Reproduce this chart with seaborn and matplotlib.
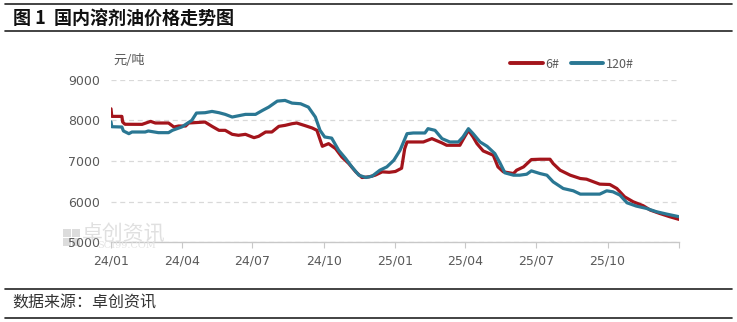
import numpy as np
import pandas as pd
import matplotlib
matplotlib.use('Agg')
import matplotlib.pyplot as plt
from matplotlib.lines import Line2D
from matplotlib.patches import Rectangle
import seaborn as sns

# ---------------- data ----------------
start_date = '2024-01-01'
days_6 = [0, 1, 14, 15, 18, 40, 51, 57, 74, 81, 87, 96, 100, 121, 130, 139, 147, 156,
          164, 173, 184, 190, 199, 207, 216, 224, 233, 239, 250, 259, 265, 272, 280,
          289, 297, 306, 315, 323, 332, 340, 349, 358, 366, 374, 378, 381, 389, 402,
          413, 426, 432, 449, 453, 460, 466, 471, 479, 492, 498, 505, 518, 522, 531,
          541, 552, 565, 569, 578, 591, 604, 612, 621, 629, 642, 651, 661, 672, 685,
          694, 706, 719, 731]
vals_6 = [8280, 8094, 8094, 7955, 7900, 7898, 7971, 7931, 7931, 7833, 7857, 7857, 7931,
          7955, 7849, 7751, 7751, 7653, 7629, 7653, 7571, 7604, 7710, 7710, 7849, 7873,
          7914, 7931, 7865, 7808, 7751, 7359, 7424, 7302, 7098, 6935, 6731, 6592, 6608,
          6649, 6731, 6720, 6740, 6820, 7300, 7465, 7465, 7465, 7547, 7441, 7384, 7384,
          7522, 7751, 7588, 7424, 7245, 7139, 6853, 6731, 6690, 6771, 6853, 7033, 7041,
          7041, 6935, 6771, 6649, 6567, 6551, 6486, 6429, 6420, 6322, 6118, 5996, 5898,
          5792, 5710, 5629, 5563]
days_120 = [0, 1, 14, 16, 23, 27, 44, 48, 61, 74, 79, 91, 104, 110, 121, 130, 139, 147,
            156, 173, 186, 195, 203, 214, 224, 233, 244, 254, 263, 269, 275, 284, 293,
            302, 310, 319, 328, 336, 346, 355, 364, 372, 381, 389, 404, 408, 417, 426,
            436, 447, 453, 460, 466, 475, 484, 494, 501, 507, 518, 526, 535, 541, 552,
            561, 569, 582, 595, 604, 612, 629, 638, 646, 655, 664, 676, 689, 702, 715,
            731]
vals_120 = [7960, 7840, 7833, 7735, 7669, 7710, 7710, 7735, 7694, 7694, 7751, 7833, 7996,
            8176, 8184, 8216, 8184, 8143, 8078, 8143, 8143, 8241, 8322, 8469, 8486, 8420,
            8404, 8322, 8078, 7751, 7588, 7560, 7261, 7057, 6853, 6649, 6592, 6624, 6771,
            6853, 7016, 7261, 7669, 7686, 7686, 7792, 7751, 7547, 7465, 7465, 7588, 7792,
            7669, 7465, 7359, 7180, 6935, 6706, 6649, 6649, 6673, 6755, 6690, 6649, 6486,
            6322, 6265, 6184, 6184, 6184, 6265, 6241, 6159, 5971, 5890, 5833, 5751, 5694,
            5629]
series_names = ['6#', '120#']
series_colors = ['#A3141B', '#2A7793']
ytick_values = [5000, 6000, 7000, 8000, 9000]
xtick_dates = ['2024-01-01', '2024-04-01', '2024-07-01', '2024-10-01', '2025-01-01',
               '2025-04-01', '2025-07-01', '2025-10-01', '2026-01-01']
xtick_labels = ['24/01', '24/04', '24/07', '24/10', '25/01', '25/04', '25/07', '25/10', '']
title_text = '图 1  国内溶剂油价格走势图'
source_text = '数据来源：卓创资讯'
unit_text = '元/吨'
watermark_text = '卓创资讯'
watermark_sub = 'SCI99.COM'

# ---------------- build table ----------------
t0 = pd.Timestamp(start_date)
df = pd.concat([
    pd.DataFrame({'date': t0 + pd.to_timedelta(days_6, unit='D'), 'price': vals_6,
                  'series': series_names[0]}),
    pd.DataFrame({'date': t0 + pd.to_timedelta(days_120, unit='D'), 'price': vals_120,
                  'series': series_names[1]}),
], ignore_index=True)

sns.set_theme(style='white')
plt.rcParams['font.family'] = ['Noto Sans CJK SC', 'DejaVu Sans']
plt.rcParams['axes.unicode_minus'] = False

W, H = 737, 322
fig = plt.figure(figsize=(W / 100, H / 100), dpi=100)
fig.patch.set_facecolor('white')

left, right, top, bottom = 111, 679, 79.5, 242.3
ax = fig.add_axes([left / W, 1 - bottom / H, (right - left) / W, (bottom - top) / H])
ax.set_facecolor('white')

sns.lineplot(data=df, x='date', y='price', hue='series', hue_order=series_names,
             palette=dict(zip(series_names, series_colors)), linewidth=2.3,
             estimator=None, sort=True, legend=False, ax=ax)

ax.set_xlim(pd.Timestamp('2024-01-01'), pd.Timestamp('2026-01-01'))
ax.set_ylim(ytick_values[0], ytick_values[-1])
ax.set_yticks(ytick_values)
ax.set_yticklabels([str(v) for v in ytick_values])
ax.set_xticks(pd.to_datetime(xtick_dates))
ax.set_xticklabels(xtick_labels)
ax.set_xlabel('')
ax.set_ylabel('')

for s in ['top', 'right', 'left']:
    ax.spines[s].set_visible(False)
ax.spines['bottom'].set_color('#C8C8C8')
ax.spines['bottom'].set_linewidth(1.0)

ax.yaxis.grid(True, linestyle=(0, (4, 3)), color='#D9D9D9', linewidth=0.9)
ax.xaxis.grid(False)
ax.set_axisbelow(True)

ax.tick_params(axis='y', length=0, pad=8, labelsize=9, labelcolor='#595959')
ax.tick_params(axis='x', length=4, width=0.8, color='#C8C8C8', direction='out',
               pad=5, labelsize=9, labelcolor='#595959', bottom=True)
for lab in ax.get_xticklabels() + ax.get_yticklabels():
    lab.set_family(['DejaVu Sans'])

# unit label
fig.text(113 / W, 1 - 60 / H, unit_text, fontsize=9.5, color='#595959',
         ha='left', va='center')

# legend
handles = [Line2D([0], [0], color=c, lw=2.8) for c in series_colors]
leg = fig.legend(handles, series_names, loc='center', bbox_to_anchor=(572 / W, 1 - 64 / H),
                 ncol=2, frameon=False, fontsize=9, handlelength=2.6, handletextpad=0.2,
                 columnspacing=0.9, borderpad=0.2)
for t in leg.get_texts():
    t.set_color('#595959')

# watermark (faint logo + text)
for (dx, dy) in [(0, 0), (9, 0), (0, 9), (9, 9)]:
    fig.add_artist(Rectangle(((63 + dx) / W, 1 - (246 - dy) / H), 8 / W, 8 / H,
                             transform=fig.transFigure, facecolor='#DCDCDC',
                             edgecolor='none', zorder=0))
fig.text(82 / W, 1 - 235 / H, watermark_text, fontsize=15, color='#E0E0E0', ha='left',
         va='center', zorder=0)
fig.text(97 / W, 1 - 246 / H, watermark_sub, fontsize=7, color='#E3E3E3', ha='left',
         va='center', family=['DejaVu Serif'], zorder=0)

# title and rules
fig.text(13 / W, 1 - 19 / H, title_text, fontsize=13, fontweight='bold', color='#111111',
         ha='left', va='center')
fig.add_artist(Line2D([5 / W, 732 / W], [1 - 4 / H, 1 - 4 / H], color='#222222', lw=1.2))
fig.add_artist(Line2D([5 / W, 732 / W], [1 - 31 / H, 1 - 31 / H], color='#222222', lw=1.2))

# source and rules
fig.text(12 / W, 1 - 303 / H, source_text, fontsize=11.5, color='#333333',
         ha='left', va='center')
fig.add_artist(Line2D([5 / W, 732 / W], [1 - 289 / H, 1 - 289 / H], color='#222222', lw=1.2))
fig.add_artist(Line2D([5 / W, 732 / W], [1 - 318 / H, 1 - 318 / H], color='#222222', lw=1.2))

fig.savefig('out.png', dpi=100, facecolor='white')
